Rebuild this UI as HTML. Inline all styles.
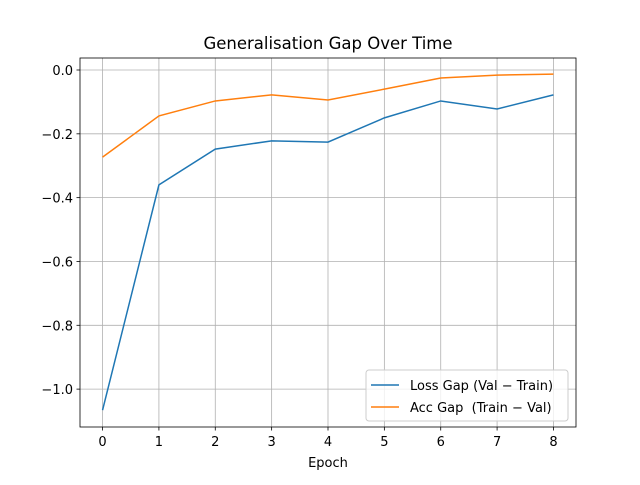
<!DOCTYPE html>
<html><head><meta charset="utf-8"><style>
body{margin:0;background:#fff;}
svg text{font-family:"DejaVu Sans","Liberation Sans",sans-serif;}
</style></head><body>
<svg id="chart" width="640" height="480" xmlns="http://www.w3.org/2000/svg">
<rect width="640" height="480" fill="#fff"/>
<g id="grid"></g>
<g id="axes"></g>
<g id="series"></g>
<text x="328" y="49" font-size="16.5" text-anchor="middle">Generalisation Gap Over Time</text>
<text x="328" y="467" font-size="13" text-anchor="middle">Epoch</text>
<g>
<rect x="366" y="370" width="202" height="51" rx="3" fill="#fff" fill-opacity="0.8" stroke="#ccc"/>
<line x1="371" y1="385" x2="399" y2="385" stroke="#1f77b4" stroke-width="1.5"/>
<text x="410" y="390" font-size="13">Loss Gap (Val − Train)</text>
<line x1="371" y1="407" x2="399" y2="407" stroke="#ff7f0e" stroke-width="1.5"/>
<text x="410" y="412" font-size="13" xml:space="preserve">Acc Gap  (Train − Val)</text>
</g>
</svg>
<script>
const epochs=[0,1,2,3,4,5,6,7,8];
const lossGap=[-1.066,-0.36,-0.248,-0.222,-0.226,-0.15,-0.097,-0.122,-0.078];
const accGap=[-0.273,-0.144,-0.097,-0.078,-0.094,-0.06,-0.025,-0.016,-0.013];
const yTicks=[0,-0.2,-0.4,-0.6,-0.8,-1.0];
const yTickLabels=["0.0","−0.2","−0.4","−0.6","−0.8","−1.0"];
const xTicks=[0,1,2,3,4,5,6,7,8];

const L=80,R=576,T=58,B=427;
const xMin=-0.4,xMax=8.4,yMin=-1.1187,yMax=0.0376;
const xs=v=>L+(v-xMin)/(xMax-xMin)*(R-L);
const ys=v=>B-(v-yMin)/(yMax-yMin)*(B-T);
const NS="http://www.w3.org/2000/svg";
function mk(tag,attrs,parent){const e=document.createElementNS(NS,tag);for(const k in attrs)e.setAttribute(k,attrs[k]);parent.appendChild(e);return e;}
const grid=document.getElementById('grid'),axes=document.getElementById('axes'),series=document.getElementById('series');
xTicks.forEach(t=>{
 const x=xs(t);
 const g=mk('line',{x1:x,x2:x,y1:T,y2:B,stroke:'#b0b0b0','stroke-width':0.8},grid);
 
 
 mk('line',{x1:x,x2:x,y1:B,y2:B+3.5,stroke:'#000','stroke-width':0.8},axes);
 const tx=mk('text',{x:x,y:B+19,'font-size':13,'text-anchor':'middle'},axes);
 tx.textContent=t;
 
 
});
yTicks.forEach((t,i)=>{
 const y=ys(t);
 const g=mk('line',{x1:L,x2:R,y1:y,y2:y,stroke:'#b0b0b0','stroke-width':0.8},grid);
 
 
 mk('line',{x1:L-3.5,x2:L,y1:y,y2:y,stroke:'#000','stroke-width':0.8},axes);
 const tx=mk('text',{x:L-7,y:y+5,'font-size':13,'text-anchor':'end'},axes);
 tx.textContent=yTickLabels[i];
 
 
});
const frame=mk('rect',{x:L,y:T,width:R-L,height:B-T,fill:'none',stroke:'#000','stroke-width':0.8},axes);


function line(vals,color,name){
 const p=mk('polyline',{points:epochs.map((e,i)=>xs(e)+','+ys(vals[i])).join(' '),fill:'none',stroke:color,'stroke-width':1.5},series);
 
 
}
line(lossGap,'#1f77b4','loss-gap-line');
line(accGap,'#ff7f0e','acc-gap-line');
</script>
</body></html>
